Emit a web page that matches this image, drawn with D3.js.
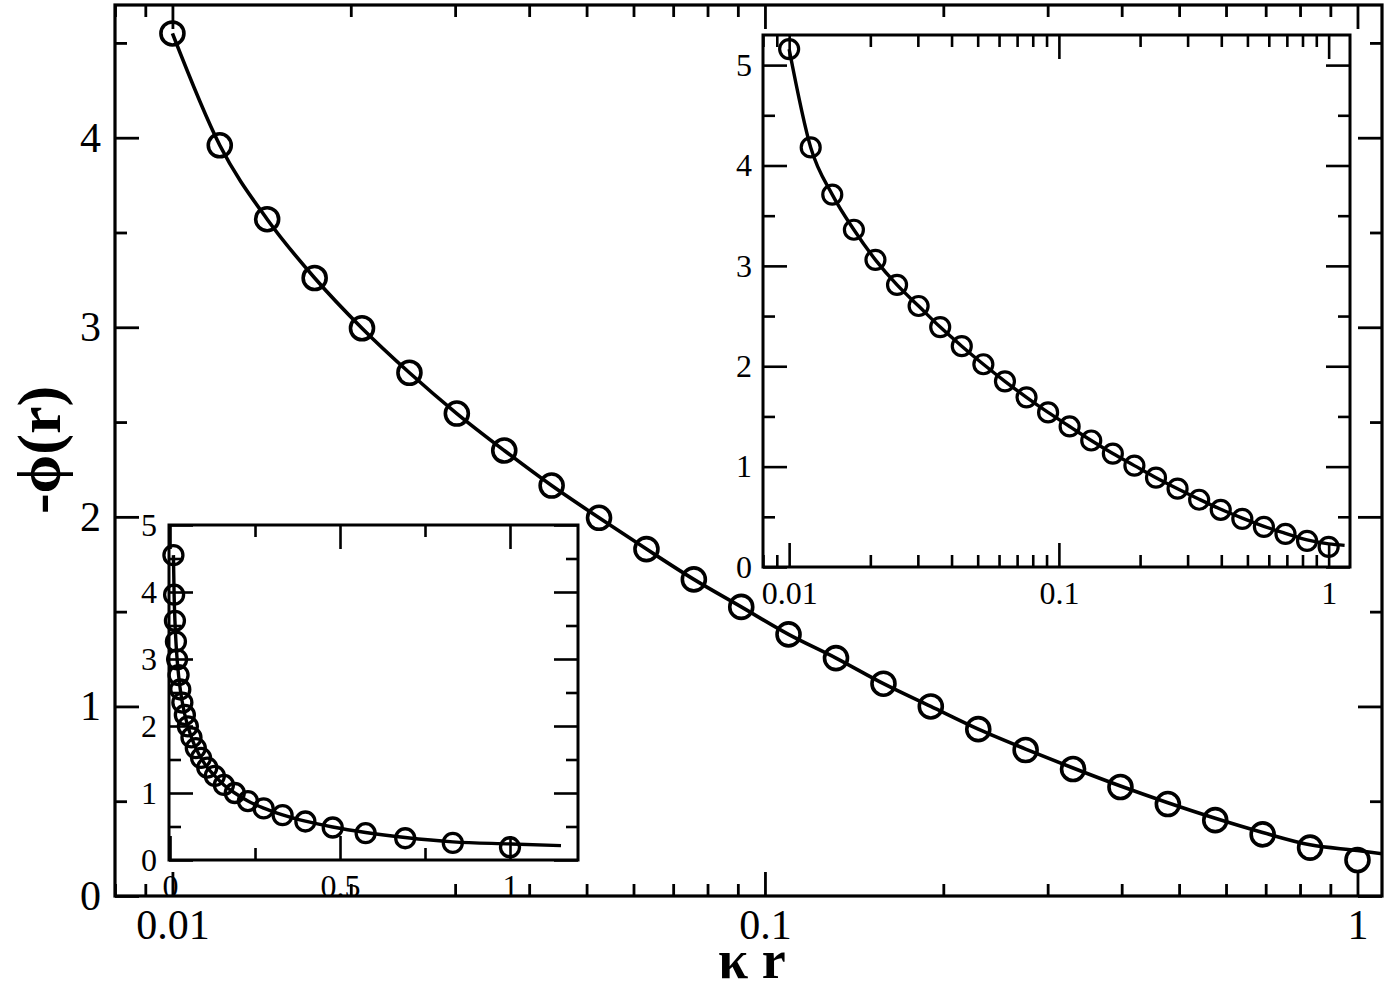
<!DOCTYPE html>
<html>
<head>
<meta charset="utf-8">
<script src="https://cdn.jsdelivr.net/npm/d3@7"></script>
<style>
    body { margin: 0; background: #fff; }
    svg { display: block; }
    text { font-family: "Liberation Serif", "DejaVu Serif", serif; fill: #000; }
</style>
</head>
<body>
<div id="chart"></div>
<script>
// kappa r sample points (same for both data sets)
const kr = [0.01, 0.01202, 0.01445, 0.01738, 0.02089, 0.02512, 0.0302, 0.03631, 0.04365, 0.05248,
    0.0631, 0.07586, 0.0912, 0.1096, 0.1318, 0.1585, 0.1905, 0.2291, 0.2754, 0.3311,
    0.3981, 0.4786, 0.5754, 0.6918, 0.8318, 1.0];

// main panel (and linear inset): -phi(r) symbols
const phiMain = [4.55, 3.96, 3.57, 3.26, 2.995, 2.76, 2.545, 2.35, 2.165, 1.995,
    1.83, 1.67, 1.525, 1.38, 1.255, 1.12, 1.0, 0.88, 0.77, 0.67,
    0.575, 0.485, 0.40, 0.325, 0.255, 0.19];

// main panel: solid curve
const curveMainX = [0.01, 0.01202, 0.01445, 0.01738, 0.02089, 0.02512, 0.0302, 0.03631, 0.04365, 0.05248,
    0.0631, 0.07586, 0.0912, 0.1096, 0.1318, 0.1585, 0.1905, 0.2291, 0.2754, 0.3311,
    0.3981, 0.4786, 0.5754, 0.6918, 0.8318, 1.0, 1.15];
const curveMainY = [4.55, 3.96, 3.57, 3.26, 2.995, 2.76, 2.545, 2.35, 2.165, 1.995,
    1.83, 1.67, 1.525, 1.38, 1.255, 1.12, 1.0, 0.88, 0.775, 0.675,
    0.58, 0.492, 0.41, 0.335, 0.27, 0.24, 0.215];

// upper right inset: symbols
const phiInset = [5.16, 4.18, 3.71, 3.36, 3.06, 2.81, 2.60, 2.39, 2.20, 2.02,
    1.85, 1.69, 1.54, 1.40, 1.26, 1.13, 1.01, 0.89, 0.78, 0.67,
    0.57, 0.48, 0.40, 0.33, 0.26, 0.20];

// upper right inset: solid curve
const curveInsetX = [0.01, 0.01202, 0.01445, 0.01738, 0.02089, 0.02512, 0.0302, 0.03631, 0.04365, 0.05248,
    0.0631, 0.07586, 0.0912, 0.1096, 0.1318, 0.1585, 0.1905, 0.2291, 0.2754, 0.3311,
    0.3981, 0.4786, 0.5754, 0.6918, 0.8318, 1.0, 1.146];
const curveInsetY = [5.16, 4.18, 3.71, 3.36, 3.06, 2.81, 2.60, 2.39, 2.20, 2.02,
    1.85, 1.69, 1.54, 1.40, 1.26, 1.13, 1.01, 0.89, 0.78, 0.675,
    0.575, 0.487, 0.405, 0.335, 0.27, 0.23, 0.215];

// tick values
const mainXMajor = [0.01, 0.1, 1];
const mainYMajor = [0, 1, 2, 3, 4];
const insetYMajor = [0, 1, 2, 3, 4, 5];
const linXMajor = [0, 0.5, 1];
const linXMinor = [0.25, 0.75];

const svg = d3.select("#chart")
    .append("svg")
    .attr("width", 1387)
    .attr("height", 992);

const halfSteps = (max) => d3.range(0.5, max, 1);

// draws one framed panel with inward ticks on all four sides
const drawPanel = (p) => {
    const g = svg.append("g");
    const x = p.x, y = p.y;
    const [x0, x1] = x.range();
    const [y0, y1] = y.range();
    const clipId = "clip" + p.id;

    g.append("clipPath")
        .attr("id", clipId)
        .append("rect")
        .attr("x", x0).attr("y", y1)
        .attr("width", x1 - x0).attr("height", y0 - y1);

    const axes = [
        { make: d3.axisBottom, scale: x, t: `translate(0,${y0})`, labels: true, major: p.xMajor, minor: p.xMinor, pad: p.padX },
        { make: d3.axisTop, scale: x, t: `translate(0,${y1})`, labels: false, major: p.xMajor, minor: p.xMinor },
        { make: d3.axisLeft, scale: y, t: `translate(${x0},0)`, labels: true, major: p.yMajor, minor: p.yMinor, pad: p.padY },
        { make: d3.axisRight, scale: y, t: `translate(${x1},0)`, labels: false, major: p.yMajor, minor: p.yMinor }
    ];

    axes.forEach((a) => {
        // minor ticks
        g.append("g")
            .attr("transform", a.t)
            .call(a.make(a.scale).tickValues(a.minor).tickSize(-12).tickFormat(() => ""))
            .call((s) => s.select(".domain").remove())
            .selectAll("line")
            .attr("stroke-width", p.tickWidth);

        // major ticks
        const ax = g.append("g")
            .attr("transform", a.t)
            .call(a.make(a.scale).tickValues(a.major).tickSize(-24)
                .tickPadding(a.pad || 0)
                .tickFormat(a.labels ? d3.format("~g") : () => ""))
            .call((s) => s.select(".domain").remove());
        ax.selectAll("line").attr("stroke-width", p.tickWidth);
        ax.selectAll("text")
            .attr("font-size", p.fontSize)
            .attr("font-family", '"Liberation Serif", "DejaVu Serif", serif')
            .attr("fill", "#000");
    });

    // frame
    g.append("rect")
        .attr("x", x0).attr("y", y1)
        .attr("width", x1 - x0).attr("height", y0 - y1)
        .attr("fill", "none")
        .attr("stroke", "#000")
        .attr("stroke-width", p.frameWidth);

    const line = d3.line()
        .x((d) => x(d[0]))
        .y((d) => y(d[1]))
        .curve(d3.curveMonotoneX);

    g.append("path")
        .datum(d3.zip(p.curveX, p.curveY))
        .attr("clip-path", `url(#${clipId})`)
        .attr("fill", "none")
        .attr("stroke", "#000")
        .attr("stroke-width", p.lineWidth)
        .attr("d", line);

    g.append("g")
        .selectAll("circle")
        .data(d3.zip(p.ptX, p.ptY))
        .join("circle")
        .attr("cx", (d) => x(d[0]))
        .attr("cy", (d) => y(d[1]))
        .attr("r", p.r)
        .attr("fill", "none")
        .attr("stroke", "#000")
        .attr("stroke-width", p.symWidth);

    return g;
};

// linear inset (bottom left)
drawPanel({
    id: "lin",
    x: d3.scaleLinear().domain([-0.003, 1.2]).range([169, 578]),
    y: d3.scaleLinear().domain([0, 5]).range([860, 525]),
    xMajor: linXMajor, xMinor: linXMinor,
    yMajor: insetYMajor, yMinor: halfSteps(5),
    padX: 14, padY: 12, fontSize: 32,
    curveX: curveMainX, curveY: curveMainY,
    ptX: kr, ptY: phiMain,
    r: 9.5, symWidth: 3.3, lineWidth: 3.4, tickWidth: 2.6, frameWidth: 3
});

// log inset (top right)
const xIns = d3.scaleLog().domain([0.008, 1.2]).range([763, 1350]);
drawPanel({
    id: "ins",
    x: xIns,
    y: d3.scaleLinear().domain([0, 5.3]).range([567, 35]),
    xMajor: mainXMajor, xMinor: xIns.ticks().filter((v) => !mainXMajor.includes(v)),
    yMajor: insetYMajor, yMinor: halfSteps(5.3),
    padX: 14, padY: 11, fontSize: 32,
    curveX: curveInsetX, curveY: curveInsetY,
    ptX: kr, ptY: phiInset,
    r: 9.5, symWidth: 3.2, lineWidth: 3.4, tickWidth: 2.6, frameWidth: 3
});

// main panel
const xMain = d3.scaleLog().domain([0.008, 1.1]).range([115, 1382]);
drawPanel({
    id: "main",
    x: xMain,
    y: d3.scaleLinear().domain([0, 4.7]).range([896, 5]),
    xMajor: mainXMajor, xMinor: xMain.ticks().filter((v) => !mainXMajor.includes(v)),
    yMajor: mainYMajor, yMinor: halfSteps(4.7),
    padX: 13, padY: 14, fontSize: 42,
    curveX: curveMainX, curveY: curveMainY,
    ptX: kr, ptY: phiMain,
    r: 11.5, symWidth: 3.6, lineWidth: 3.6, tickWidth: 2.8, frameWidth: 3.2
});

// axis titles
svg.append("text")
    .attr("x", 752)
    .attr("y", 978)
    .attr("text-anchor", "middle")
    .attr("font-size", 54)
    .attr("font-weight", "bold")
    .text("κ r");

svg.append("text")
    .attr("transform", "translate(60,450) rotate(-90)")
    .attr("text-anchor", "middle")
    .attr("font-size", 62)
    .attr("font-weight", "bold")
    .text("-ϕ(r)");
</script>
</body>
</html>
